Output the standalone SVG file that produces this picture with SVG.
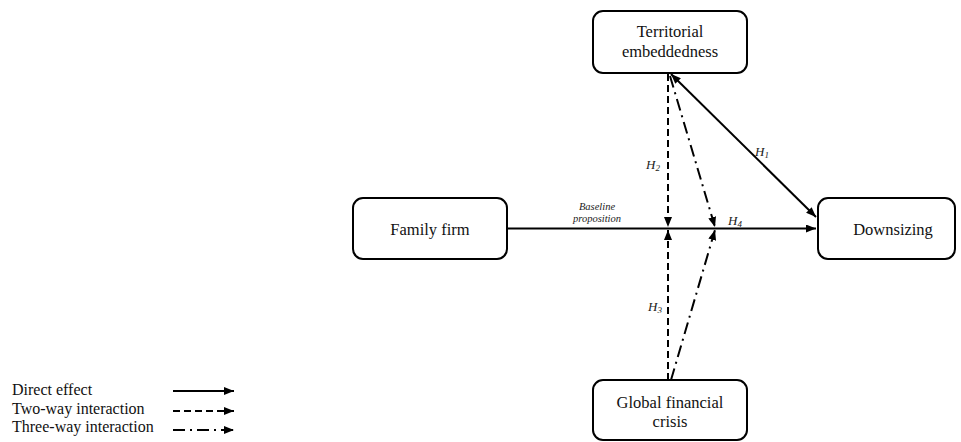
<svg xmlns="http://www.w3.org/2000/svg" width="961" height="442" viewBox="0 0 961 442">
<defs>
<marker id="ah" viewBox="0 0 10 8" refX="10" refY="4" markerWidth="10" markerHeight="8" markerUnits="userSpaceOnUse" orient="auto-start-reverse">
<path d="M0,0 L10,4 L0,8 Z" fill="#000"/>
</marker>
</defs>
<style>
.box{fill:#fff;stroke:#000;stroke-width:2}
.t{font-family:"Liberation Serif","Times New Roman",serif;font-size:16.5px;fill:#111;text-anchor:middle}
.lg{font-family:"Liberation Serif","Times New Roman",serif;font-size:16px;fill:#111}
.lab{font-family:"Liberation Serif","Times New Roman",serif;font-style:italic;fill:#222;text-anchor:middle}
.solid{stroke:#000;stroke-width:2;fill:none}
.dash{stroke:#000;stroke-width:2;fill:none;stroke-dasharray:7,4}
.dd{stroke:#000;stroke-width:2;fill:none;stroke-dasharray:12,5,2,5}
</style>
<g id="connectors">
<line class="solid" x1="507" y1="228.5" x2="816" y2="228.5" marker-end="url(#ah)"/>
<line class="solid" x1="671" y1="74" x2="816" y2="217" marker-start="url(#ah)" marker-end="url(#ah)"/>
<line class="dash" x1="668" y1="74" x2="668" y2="227" marker-end="url(#ah)"/>
<line class="dash" x1="668" y1="380" x2="668" y2="230" marker-end="url(#ah)"/>
<line class="dd" x1="670" y1="76" x2="715" y2="227" marker-end="url(#ah)"/>
<line class="dd" x1="671" y1="380" x2="715" y2="230" marker-end="url(#ah)"/>
</g>
<g id="labels">
<text class="lab" x="597" y="210" font-size="10.5">Baseline</text>
<text class="lab" x="597" y="222" font-size="10.5">proposition</text>
<text class="lab" x="762" y="156" font-size="13">H<tspan font-size="9" dy="2">1</tspan></text>
<text class="lab" x="653" y="169" font-size="13">H<tspan font-size="9" dy="2">2</tspan></text>
<text class="lab" x="655" y="311" font-size="13">H<tspan font-size="9" dy="2">3</tspan></text>
<text class="lab" x="735" y="225" font-size="13">H<tspan font-size="9" dy="2">4</tspan></text>
</g>
<g id="territorial">
<rect class="box" x="593" y="11" width="154" height="62" rx="10"/>
<text class="t" x="670" y="37">Territorial</text>
<text class="t" x="670" y="57">embeddedness</text>
</g>
<g id="family">
<rect class="box" x="353" y="198" width="154" height="61" rx="10"/>
<text class="t" x="430" y="235">Family firm</text>
</g>
<g id="downsizing">
<rect class="box" x="818" y="198" width="137" height="61" rx="10"/>
<text class="t" x="893" y="235">Downsizing</text>
</g>
<g id="crisis">
<rect class="box" x="593" y="380" width="154" height="60" rx="10"/>
<text class="t" x="670" y="408">Global financial</text>
<text class="t" x="670" y="427">crisis</text>
</g>
<g id="legend">
<text class="lg" x="12" y="395">Direct effect</text>
<text class="lg" x="12" y="414">Two-way interaction</text>
<text class="lg" x="12" y="432">Three-way interaction</text>
<line class="solid" x1="173" y1="391" x2="234" y2="391" marker-end="url(#ah)"/>
<line class="dash" x1="173" y1="411" x2="234" y2="411" stroke-dasharray="8,6" marker-end="url(#ah)"/>
<line class="dd" x1="173" y1="430" x2="234" y2="430" stroke-dasharray="16,7,2,7" marker-end="url(#ah)"/>
</g>
</svg>
